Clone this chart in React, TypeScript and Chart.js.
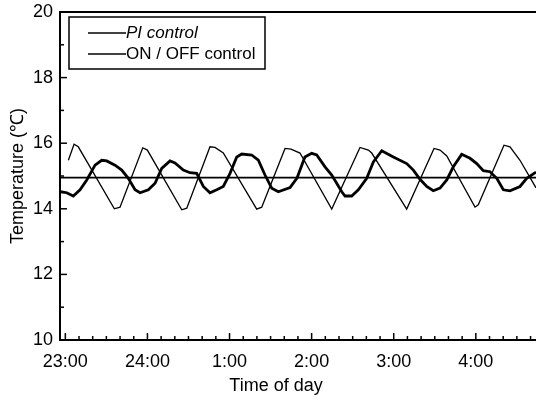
import React, { useEffect, useRef } from "react";
import { Chart, registerables } from "chart.js";

Chart.register(...registerables);

// Hours elapsed since 23:00
const hourLabels = ["23:00", "24:00", "1:00", "2:00", "3:00", "4:00"];
const hourTickValues = [0, 1, 2, 3, 4, 5];

const piLabel = "PI control";
const onoffLabel = "ON / OFF control";
const yTitle = "Temperature (\u2103)";
const xTitle = "Time of day";

const piTime = [
  -0.06, 0.017, 0.097, 0.179, 0.261, 0.362, 0.443, 0.504, 0.605, 0.687, 0.767, 0.849, 0.91,
  1.011, 1.093, 1.174, 1.275, 1.336, 1.437, 1.519, 1.6, 1.681, 1.762, 1.844, 1.924,
  2.006, 2.088, 2.149, 2.27, 2.351, 2.432, 2.514, 2.594, 2.737, 2.822, 2.918,
  3.001, 3.062, 3.163, 3.245, 3.367, 3.407, 3.488, 3.569, 3.671, 3.752, 3.854, 3.995,
  4.158, 4.239, 4.32, 4.402, 4.482, 4.564, 4.646, 4.726, 4.828, 4.929,
  5.011, 5.091, 5.173, 5.255, 5.335, 5.416, 5.538, 5.62, 5.733,
];
const piTemp = [
  14.52, 14.49, 14.39, 14.58, 14.88, 15.33, 15.48, 15.46, 15.33, 15.18, 14.93, 14.58, 14.49,
  14.58, 14.78, 15.23, 15.46, 15.4, 15.18, 15.1, 15.08, 14.68, 14.49, 14.58, 14.68,
  15.08, 15.58, 15.67, 15.64, 15.48, 15.03, 14.63, 14.52, 14.65, 14.94, 15.58,
  15.69, 15.64, 15.28, 15.03, 14.52, 14.39, 14.39, 14.58, 14.93, 15.43, 15.77, 15.58,
  15.38, 15.18, 14.9, 14.68, 14.55, 14.63, 14.88, 15.28, 15.66, 15.54,
  15.38, 15.16, 15.13, 14.93, 14.58, 14.55, 14.68, 14.93, 15.12,
];

const onoffTime = [
  0.037, 0.106, 0.158, 0.597, 0.666, 0.943, 0.999, 1.418, 1.479, 1.762, 1.823, 1.924,
  2.331, 2.392, 2.676, 2.749, 2.858, 3.245, 3.589, 3.691, 3.732, 4.158, 4.491, 4.564,
  4.646, 4.99, 5.03, 5.343, 5.416, 5.538, 5.733,
];
const onoffTemp = [
  15.48, 15.97, 15.89, 14.0, 14.05, 15.86, 15.79, 13.97, 14.02, 15.89, 15.87, 15.7,
  13.99, 14.05, 15.84, 15.82, 15.7, 13.99, 15.87, 15.79, 15.7, 13.99, 15.84, 15.79,
  15.61, 14.05, 14.12, 15.94, 15.89, 15.48, 14.64,
];

const setpointTime = [-0.065, 5.733];
const setpointTemp = [14.95, 14.95];

const X_MIN = -0.065;
const X_MAX = 5.733;
const FONT = '"Liberation Sans", Arial, Helvetica, sans-serif';

const zip = (xs: number[], ys: number[]) => xs.map((x, i) => ({ x, y: ys[i] }));

const decor = {
  id: "decor",
  afterDraw(chart: any) {
    const { ctx, chartArea: a, scales } = chart;
    const x = scales.x;
    const y = scales.y;
    ctx.save();
    ctx.strokeStyle = "#000";
    ctx.fillStyle = "#000";
    // top frame line
    ctx.lineWidth = 2;
    ctx.beginPath();
    ctx.moveTo(a.left, a.top);
    ctx.lineTo(a.right, a.top);
    ctx.stroke();
    // inward y ticks
    ctx.lineWidth = 1.5;
    for (let v = 10; v <= 20; v++) {
      const py = y.getPixelForValue(v);
      const len = v % 2 === 0 ? 7 : 4;
      ctx.beginPath();
      ctx.moveTo(a.left, py);
      ctx.lineTo(a.left + len, py);
      ctx.stroke();
    }
    // inward x ticks (every 10 min)
    for (let i = 0; i <= 40; i++) {
      const px = x.getPixelForValue(i / 6);
      if (px > a.right) break;
      const len = i % 6 === 0 ? 7 : 4;
      ctx.beginPath();
      ctx.moveTo(px, a.bottom);
      ctx.lineTo(px, a.bottom - len);
      ctx.stroke();
    }
    // legend box
    ctx.fillStyle = "#fff";
    ctx.fillRect(a.left + 9, a.top + 5, 196, 52);
    ctx.lineWidth = 1.5;
    ctx.strokeRect(a.left + 9, a.top + 5, 196, 52);
    const items = [
      { label: chart.data.datasets[2].label, y: a.top + 21, italic: true },
      { label: chart.data.datasets[1].label, y: a.top + 42, italic: false },
    ];
    ctx.fillStyle = "#000";
    ctx.textAlign = "left";
    ctx.textBaseline = "middle";
    for (const it of items) {
      ctx.lineWidth = 1.5;
      ctx.beginPath();
      ctx.moveTo(a.left + 28, it.y);
      ctx.lineTo(a.left + 66, it.y);
      ctx.stroke();
      ctx.font = (it.italic ? "italic " : "") + "17px " + FONT;
      ctx.fillText(it.label, a.left + 66, it.y);
    }
    // x title
    ctx.font = "18px " + FONT;
    ctx.textAlign = "center";
    ctx.textBaseline = "alphabetic";
    ctx.fillText(xTitle, a.left + 216, a.bottom + 51);
    ctx.restore();
  },
};

export default function App() {
  const ref = useRef<HTMLCanvasElement | null>(null);
  useEffect(() => {
    document.body.style.margin = "0";
    if (!ref.current) return;
    const chart = new Chart(ref.current, {
      type: "line",
      data: {
        datasets: [
          {
            label: "setpoint",
            data: zip(setpointTime, setpointTemp),
            borderColor: "#000",
            borderWidth: 1.6,
            pointRadius: 0,
            tension: 0,
          },
          {
            label: onoffLabel,
            data: zip(onoffTime, onoffTemp),
            borderColor: "#000",
            borderWidth: 1.3,
            pointRadius: 0,
            tension: 0,
          },
          {
            label: piLabel,
            data: zip(piTime, piTemp),
            borderColor: "#000",
            borderWidth: 2.8,
            pointRadius: 0,
            tension: 0,
          },
        ],
      },
      options: {
        animation: false,
        responsive: false,
        maintainAspectRatio: false,
        layout: { padding: { top: 12, left: 0, right: 0, bottom: 0 } },
        plugins: { legend: { display: false }, tooltip: { enabled: false } },
        scales: {
          x: {
            type: "linear",
            min: X_MIN,
            max: X_MAX,
            afterBuildTicks: (s: any) => {
              s.ticks = hourTickValues.map((v) => ({ value: v }));
            },
            afterFit: (s: any) => {
              s.height = 60;
              s.paddingLeft = 0;
              s.paddingRight = 0;
            },
            ticks: {
              autoSkip: false,
              maxRotation: 0,
              padding: 11,
              color: "#000",
              font: { family: FONT, size: 18 },
              callback: (v: any) => hourLabels[hourTickValues.indexOf(Number(v))] ?? "",
            },
            grid: { drawOnChartArea: false, drawTicks: false },
            border: { display: true, color: "#000", width: 2 },
          },
          y: {
            type: "linear",
            min: 10,
            max: 20,
            afterFit: (s: any) => {
              s.width = 60;
              s.paddingTop = 0;
              s.paddingBottom = 0;
            },
            ticks: {
              stepSize: 2,
              padding: 7,
              color: "#000",
              font: { family: FONT, size: 18 },
            },
            title: {
              display: true,
              text: yTitle,
              color: "#000",
              font: { family: FONT, size: 18 },
              padding: { top: 7, bottom: 0 },
            },
            grid: { drawOnChartArea: false, drawTicks: false },
            border: { display: true, color: "#000", width: 2 },
          },
        },
      },
      plugins: [decor],
    });
    return () => chart.destroy();
  }, []);
  return (
    <div style={{ width: 536, height: 400 }}>
      <canvas ref={ref} width={536} height={400} style={{ display: "block" }} />
    </div>
  );
}
